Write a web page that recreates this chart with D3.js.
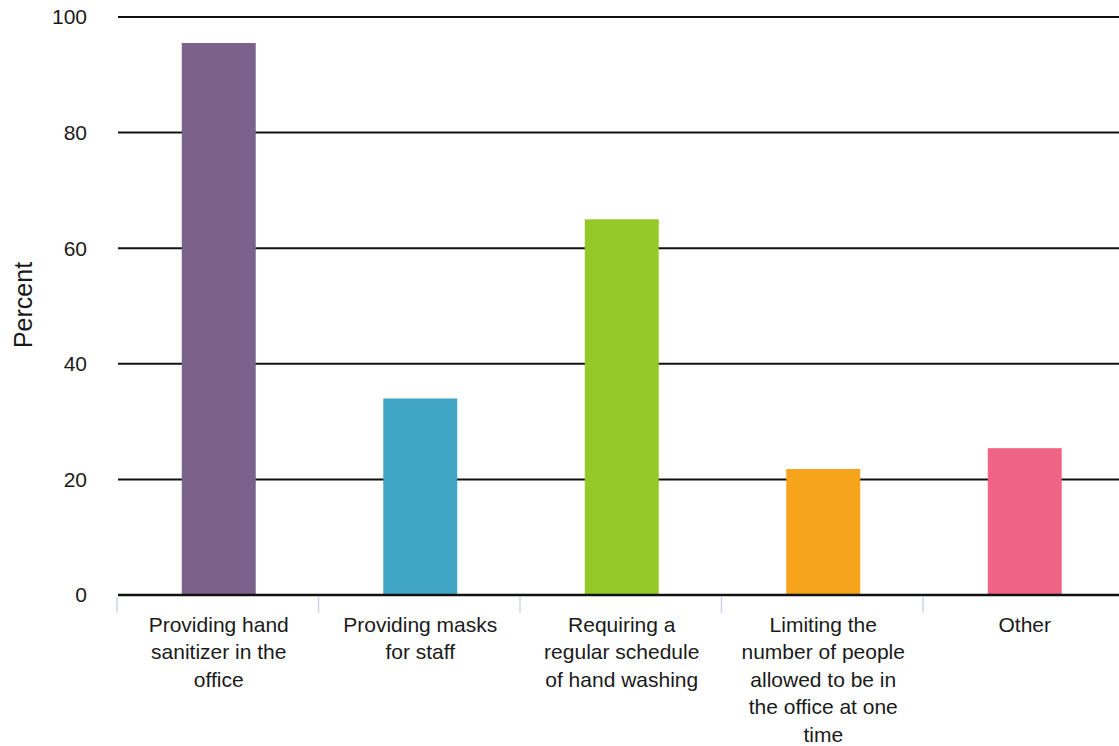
<!DOCTYPE html>
<html>
<head>
<meta charset="utf-8">
<script src="https://cdn.jsdelivr.net/npm/d3@7"></script>
<style>
  body { margin: 0; background: #fff; }
  text { font-family: "Liberation Sans", Arial, sans-serif; }
</style>
</head>
<body>
<div id="chart"></div>
<script>
const categories = [
  "Providing hand sanitizer in the office",
  "Providing masks for staff",
  "Requiring a regular schedule of hand washing",
  "Limiting the number of people allowed to be in the office at one time",
  "Other"
];
const values = [95.5, 34, 65, 21.8, 25.4];
const colors = ["#7c618c", "#40a4c4", "#95c928", "#f5a41b", "#ef6385"];
const yTicks = [0, 20, 40, 60, 80, 100];

const width = 1119, height = 746;
const margin = { top: 17, bottom: 151, left: 118 };

const svg = d3.select("#chart")
  .append("svg")
  .attr("width", width)
  .attr("height", height);

const x = d3.scaleBand()
  .domain(categories)
  .range([margin.left, 1125.5])
  .paddingInner(0.633)
  .paddingOuter(0.3165);

const y = d3.scaleLinear()
  .domain([0, 100])
  .range([height - margin.bottom, margin.top]);

// gridlines
svg.append("g")
  .selectAll("line")
  .data(yTicks)
  .join("line")
  .attr("x1", margin.left)
  .attr("x2", width)
  .attr("y1", d => y(d))
  .attr("y2", d => y(d))
  .attr("stroke", "#111")
  .attr("stroke-width", 2);

// y labels
svg.append("g")
  .selectAll("text")
  .data(yTicks)
  .join("text")
  .attr("x", 87)
  .attr("y", d => y(d))
  .attr("dy", "0.35em")
  .attr("text-anchor", "end")
  .attr("font-size", 21)
  .attr("fill", "#1a1a1a")
  .text(d => d);

svg.append("text")
  .attr("transform", `translate(32,${y(50) - 1}) rotate(-90)`)
  .attr("text-anchor", "middle")
  .attr("font-size", 25)
  .attr("fill", "#1a1a1a")
  .text("Percent");

// bars
svg.append("g")
  .selectAll("rect")
  .data(values)
  .join("rect")
  .attr("x", (d, i) => x(categories[i]))
  .attr("width", x.bandwidth())
  .attr("y", d => y(d))
  .attr("height", d => y(0) - y(d))
  .attr("fill", (d, i) => colors[i]);

// zero line over bars
svg.append("line")
  .attr("x1", margin.left)
  .attr("x2", width)
  .attr("y1", y(0))
  .attr("y2", y(0))
  .attr("stroke", "#111")
  .attr("stroke-width", 2.5);

// category ticks at band boundaries
const step = x.step();
svg.append("g")
  .selectAll("line")
  .data(categories)
  .join("line")
  .attr("x1", (d, i) => margin.left - 1 + i * step)
  .attr("x2", (d, i) => margin.left - 1 + i * step)
  .attr("y1", y(0) + 2)
  .attr("y2", y(0) + 18)
  .attr("stroke", "#ccd6eb")
  .attr("stroke-width", 1.5);

// wrapped category labels
const lineH = 27.4;
const labels = svg.append("g")
  .selectAll("text")
  .data(categories)
  .join("text")
  .attr("text-anchor", "middle")
  .attr("font-size", 21)
  .attr("fill", "#1a1a1a")
  .attr("x", d => x(d) + x.bandwidth() / 2)
  .attr("y", 632);

labels.each(function (d) {
  const el = d3.select(this);
  const cx = +el.attr("x");
  const words = d.split(" ");
  let line = [];
  let tspan = el.append("tspan").attr("x", cx).attr("dy", 0);
  words.forEach(w => {
    line.push(w);
    tspan.text(line.join(" "));
    if (tspan.node().getComputedTextLength() > 174 && line.length > 1) {
      line.pop();
      tspan.text(line.join(" "));
      line = [w];
      tspan = el.append("tspan").attr("x", cx).attr("dy", lineH).text(w);
    }
  });
});
</script>
</body>
</html>
